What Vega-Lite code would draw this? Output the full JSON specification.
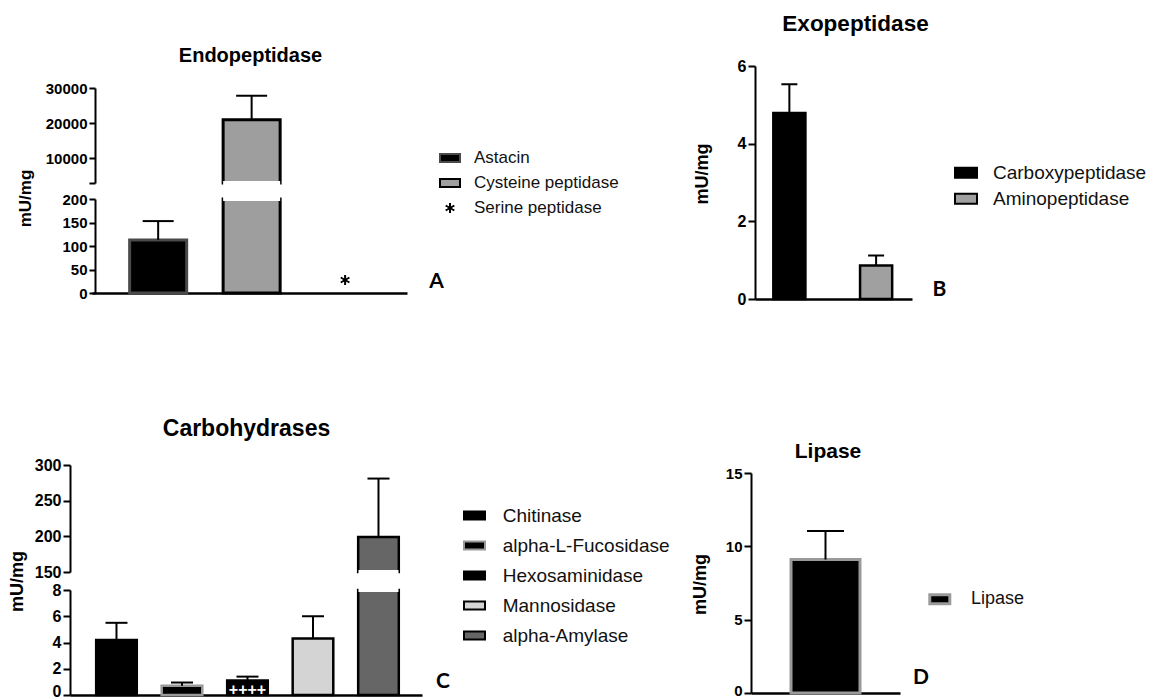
{
  "$schema": "https://vega.github.io/schema/vega-lite/v6.json",
  "width": 1159,
  "height": 699,
  "autosize": {"type": "none"},
  "padding": 0,
  "background": "white",
  "config": {
    "view": {"stroke": null},
    "axis": {"grid": false, "domainColor": "#000", "tickColor": "#000", "labelColor": "#000", "titleColor": "#000", "labelFont": "Liberation Sans", "titleFont": "Liberation Sans", "labelFontWeight": "bold", "titleFontWeight": "bold", "domainWidth": 2, "tickWidth": 2, "tickSize": 7, "labelPadding": 2, "labelOverlap": false, "labelFlush": false},
    "legend": {"padding": 0, "offset": 0, "labelFont": "Liberation Sans", "labelColor": "#111", "labelLimit": 0, "symbolStrokeWidth": 2}
  },
  "datasets": {
    "endo": [
      {"enzyme": "Astacin", "value": 113, "high": 153},
      {"enzyme": "Cysteine peptidase", "value": 21000, "high": 27800},
      {"enzyme": "Serine peptidase", "value": null, "high": null}
    ],
    "exo": [
      {"enzyme": "Carboxypeptidase", "value": 4.79, "high": 5.53},
      {"enzyme": "Aminopeptidase", "value": 0.86, "high": 1.12}
    ],
    "carbo": [
      {"enzyme": "Chitinase", "value": 4.2, "high": 5.5},
      {"enzyme": "alpha-L-Fucosidase", "value": 0.7, "high": 0.95},
      {"enzyme": "Hexosaminidase", "value": 1.1, "high": 1.4},
      {"enzyme": "Mannosidase", "value": 4.3, "high": 6.0},
      {"enzyme": "alpha-Amylase", "value": 199, "high": 281}
    ],
    "lipase": [
      {"enzyme": "Lipase", "value": 9.1, "high": 11.05}
    ]
  },
  "layer": [
    {
      "data": {"name": "endo"},
      "transform": [{"filter": "datum.value > 3000"}],
      "mark": {"type": "bar", "strokeWidth": 3},
      "encoding": {
        "x": {"field": "enzyme", "type": "nominal", "scale": {"type": "band", "domain": ["Astacin", "Cysteine peptidase", "Serine peptidase"], "range": [92, 407], "paddingInner": 0.39, "paddingOuter": 0.38, "align": 0.53},
          "axis": {"orient": "top", "domain": false, "ticks": false, "labels": false, "title": "Endopeptidase", "titleX": 250, "titleY": 61, "titleBaseline": "alphabetic", "titleAlign": "center", "titleFontSize": 20}},
        "y": {"field": "value", "type": "quantitative", "scale": {"domain": [3000, 30000], "range": [183, 88], "clamp": true, "nice": false, "zero": false},
          "axis": {"orient": "left", "offset": -95, "tickSize": 6, "values": [3000, 10000, 20000, 30000], "format": "d", "labelExpr": "datum.value < 5000 ? '' : datum.label", "labelFontSize": 15, "title": null}},
        "y2": {"datum": 0},
        "fill": {"field": "enzyme", "type": "nominal", "scale": {"domain": ["Astacin", "Cysteine peptidase", "Serine peptidase"], "range": ["#000000", "#9e9e9e", "#000000"]}, "legend": null},
        "stroke": {"field": "enzyme", "type": "nominal", "scale": {"domain": ["Astacin", "Cysteine peptidase", "Serine peptidase"], "range": ["#4a4a4a", "#000000", "#000000"]}, "legend": null}
      }
    },
    {
      "data": {"name": "endo"},
      "transform": [{"filter": "datum.value > 3000"}],
      "encoding": {
        "x": {"field": "enzyme", "type": "nominal", "scale": {"type": "band", "domain": ["Astacin", "Cysteine peptidase", "Serine peptidase"], "range": [92, 407], "paddingInner": 0.39, "paddingOuter": 0.38, "align": 0.53}, "axis": null}
      },
      "layer": [
        {"mark": {"type": "tick", "color": "white", "thickness": 4, "size": 57, "opacity": 1},
         "encoding": {"y": {"datum": 3000, "type": "quantitative", "scale": {"domain": [3000, 30000], "range": [183, 88], "clamp": true, "nice": false, "zero": false}, "axis": null}}},
        {"mark": {"type": "rule", "color": "#000", "strokeWidth": 2},
         "encoding": {"y": {"field": "value", "type": "quantitative", "scale": {"domain": [3000, 30000], "range": [183, 88], "clamp": true, "nice": false, "zero": false}, "axis": null}, "y2": {"field": "high"}}},
        {"mark": {"type": "tick", "color": "#000", "thickness": 2, "size": 31, "opacity": 1},
         "encoding": {"y": {"field": "high", "type": "quantitative", "scale": {"domain": [3000, 30000], "range": [183, 88], "clamp": true, "nice": false, "zero": false}, "axis": null}}}
      ]
    },
    {
      "data": {"name": "endo"},
      "mark": {"type": "bar", "strokeWidth": 3},
      "encoding": {
        "x": {"field": "enzyme", "type": "nominal", "scale": {"type": "band", "domain": ["Astacin", "Cysteine peptidase", "Serine peptidase"], "range": [92, 407], "paddingInner": 0.39, "paddingOuter": 0.38, "align": 0.53},
          "axis": {"orient": "bottom", "offset": -406, "domainWidth": 2.5, "ticks": false, "labels": false, "title": "A", "titleX": 436, "titleY": -6, "titleBaseline": "alphabetic", "titleAlign": "center", "titleFont": "Lato", "titleFontSize": 21}},
        "y": {"field": "value", "type": "quantitative", "scale": {"domain": [0, 200], "range": [293, 199], "clamp": true, "nice": false, "zero": false},
          "axis": {"orient": "left", "offset": -95, "tickSize": 6, "values": [0, 50, 100, 150, 200], "labelFontSize": 15, "title": "mU/mg", "titleX": -65, "titleY": 198, "titleAngle": 270, "titleBaseline": "alphabetic", "titleAlign": "center", "titleFontSize": 17}},
        "y2": {"datum": 0},
        "fill": {"field": "enzyme", "type": "nominal", "scale": {"domain": ["Astacin", "Cysteine peptidase", "Serine peptidase"], "range": ["#000000", "#9e9e9e", "#000000"]}, "legend": null},
        "stroke": {"field": "enzyme", "type": "nominal", "scale": {"domain": ["Astacin", "Cysteine peptidase", "Serine peptidase"], "range": ["#4a4a4a", "#000000", "#000000"]}, "legend": null}
      }
    },
    {
      "data": {"name": "endo"},
      "encoding": {
        "x": {"field": "enzyme", "type": "nominal", "scale": {"type": "band", "domain": ["Astacin", "Cysteine peptidase", "Serine peptidase"], "range": [92, 407], "paddingInner": 0.39, "paddingOuter": 0.38, "align": 0.53}, "axis": null}
      },
      "layer": [
        {"transform": [{"filter": "datum.value > 200"}],
         "mark": {"type": "tick", "color": "white", "thickness": 4, "size": 57, "opacity": 1},
         "encoding": {"y": {"datum": 200, "type": "quantitative", "scale": {"domain": [0, 200], "range": [293, 199], "clamp": true, "nice": false, "zero": false}, "axis": null}}},
        {"transform": [{"filter": "datum.high != null && datum.high <= 200"}],
         "mark": {"type": "rule", "color": "#000", "strokeWidth": 2},
         "encoding": {"y": {"field": "value", "type": "quantitative", "scale": {"domain": [0, 200], "range": [293, 199], "clamp": true, "nice": false, "zero": false}, "axis": null}, "y2": {"field": "high"}}},
        {"transform": [{"filter": "datum.high != null && datum.high <= 200"}],
         "mark": {"type": "tick", "color": "#000", "thickness": 2, "size": 31, "opacity": 1},
         "encoding": {"y": {"field": "high", "type": "quantitative", "scale": {"domain": [0, 200], "range": [293, 199], "clamp": true, "nice": false, "zero": false}, "axis": null}}}
      ]
    },
    {
      "data": {"name": "endo"},
      "transform": [{"filter": "datum.enzyme === 'Serine peptidase'"}],
      "mark": {"type": "point", "strokeWidth": 2, "size": 400, "opacity": 1, "filled": false, "yOffset": -13},
      "encoding": {
        "x": {"field": "enzyme", "type": "nominal", "scale": {"type": "band", "domain": ["Astacin", "Cysteine peptidase", "Serine peptidase"], "range": [92, 407], "paddingInner": 0.39, "paddingOuter": 0.38, "align": 0.53}, "axis": null},
        "y": {"datum": 0, "type": "quantitative", "scale": {"domain": [0, 200], "range": [293, 199], "clamp": true, "nice": false, "zero": false}, "axis": null},
        "fill": {"field": "enzyme", "type": "nominal", "scale": {"domain": ["Astacin", "Cysteine peptidase", "Serine peptidase"], "range": ["#000000", "#9e9e9e", "#000000"]},
          "legend": {"orient": "none", "legendX": 439, "legendY": 147, "title": null, "rowPadding": 6, "labelOffset": 13, "labelFontSize": 17, "symbolSize": 400}},
        "stroke": {"field": "enzyme", "type": "nominal", "scale": {"domain": ["Astacin", "Cysteine peptidase", "Serine peptidase"], "range": ["#4a4a4a", "#000000", "#000000"]},
          "legend": {"orient": "none", "legendX": 439, "legendY": 147, "title": null, "rowPadding": 6, "labelOffset": 13, "labelFontSize": 17, "symbolSize": 400}},
        "shape": {"field": "enzyme", "type": "nominal", "scale": {"domain": ["Astacin", "Cysteine peptidase", "Serine peptidase"], "range": ["M-1,-0.4H1V0.4H-1Z", "M-1,-0.4H1V0.4H-1Z", "M0,-0.5L0,0.5M-0.433,-0.25L0.433,0.25M-0.433,0.25L0.433,-0.25"]},
          "legend": {"orient": "none", "legendX": 439, "legendY": 147, "title": null, "rowPadding": 6, "labelOffset": 13, "labelFontSize": 17, "symbolSize": 400}}
      }
    },
    {
      "data": {"name": "exo"},
      "mark": {"type": "bar", "strokeWidth": 2.5},
      "encoding": {
        "x": {"field": "enzyme", "type": "nominal", "scale": {"type": "band", "domain": ["Carboxypeptidase", "Aminopeptidase"], "range": [755, 912], "paddingInner": 0.63, "paddingOuter": 0.22, "align": 0.48},
          "axis": {"orient": "bottom", "offset": -400, "domainWidth": 2.5, "ticks": false, "labels": false, "title": "B", "titleX": 939, "titleY": -4, "titleBaseline": "alphabetic", "titleAlign": "center", "titleFont": "Lato", "titleFontSize": 21}},
        "y": {"field": "value", "type": "quantitative", "scale": {"domain": [0, 6], "range": [299, 66], "nice": false, "zero": false},
          "axis": {"orient": "left", "offset": -755, "values": [0, 2, 4, 6], "labelFontSize": 16, "title": "mU/mg", "titleX": -48, "titleY": 173.5, "titleAngle": 270, "titleBaseline": "alphabetic", "titleAlign": "center", "titleFontSize": 18}},
        "y2": {"datum": 0},
        "fill": {"field": "enzyme", "type": "nominal", "scale": {"domain": ["Carboxypeptidase", "Aminopeptidase"], "range": ["#000000", "#a0a0a0"]},
          "legend": {"orient": "none", "legendX": 954, "legendY": 160.7, "title": null, "rowPadding": 4, "labelOffset": 15, "labelFontSize": 19, "symbolType": "M-1,-0.45H1V0.45H-1Z", "symbolSize": 484}},
        "stroke": {"field": "enzyme", "type": "nominal", "scale": {"domain": ["Carboxypeptidase", "Aminopeptidase"], "range": ["#000000", "#000000"]},
          "legend": {"orient": "none", "legendX": 954, "legendY": 160.7, "title": null, "rowPadding": 4, "labelOffset": 15, "labelFontSize": 19, "symbolType": "M-1,-0.45H1V0.45H-1Z", "symbolSize": 484}}
      }
    },
    {
      "data": {"name": "exo"},
      "encoding": {
        "x": {"field": "enzyme", "type": "nominal", "scale": {"type": "band", "domain": ["Carboxypeptidase", "Aminopeptidase"], "range": [755, 912], "paddingInner": 0.63, "paddingOuter": 0.22, "align": 0.48},
          "axis": {"orient": "top", "domain": false, "ticks": false, "labels": false, "title": "Exopeptidase", "titleX": 855, "titleY": 30, "titleBaseline": "alphabetic", "titleAlign": "center", "titleFontSize": 22.5}}
      },
      "layer": [
        {"mark": {"type": "rule", "color": "#000", "strokeWidth": 2},
         "encoding": {"y": {"field": "value", "type": "quantitative", "scale": {"domain": [0, 6], "range": [299, 66], "nice": false, "zero": false}, "axis": null}, "y2": {"field": "high"}}},
        {"mark": {"type": "tick", "color": "#000", "thickness": 2, "size": 16, "opacity": 1},
         "encoding": {"y": {"field": "high", "type": "quantitative", "scale": {"domain": [0, 6], "range": [299, 66], "nice": false, "zero": false}, "axis": null}}}
      ]
    },
    {
      "data": {"name": "carbo"},
      "transform": [{"filter": "datum.value > 150"}],
      "mark": {"type": "bar", "strokeWidth": 2.5},
      "encoding": {
        "x": {"field": "enzyme", "type": "nominal", "scale": {"type": "band", "domain": ["Chitinase", "alpha-L-Fucosidase", "Hexosaminidase", "Mannosidase", "alpha-Amylase"], "range": [70, 422], "paddingInner": 0.38, "paddingOuter": 0.377, "align": 0.53},
          "axis": {"orient": "top", "domain": false, "ticks": false, "labels": false, "title": "Carbohydrases", "titleX": 246, "titleY": 435, "titleBaseline": "alphabetic", "titleAlign": "center", "titleFontSize": 23}},
        "y": {"field": "value", "type": "quantitative", "scale": {"domain": [150, 300], "range": [572, 465], "clamp": true, "nice": false, "zero": false},
          "axis": {"orient": "left", "offset": -70, "values": [150, 200, 250, 300], "labelFontSize": 16, "title": null}},
        "y2": {"datum": 0},
        "fill": {"field": "enzyme", "type": "nominal", "scale": {"domain": ["Chitinase", "alpha-L-Fucosidase", "Hexosaminidase", "Mannosidase", "alpha-Amylase"], "range": ["#000000", "#000000", "#000000", "#d4d4d4", "#666666"]}, "legend": null},
        "stroke": {"field": "enzyme", "type": "nominal", "scale": {"domain": ["Chitinase", "alpha-L-Fucosidase", "Hexosaminidase", "Mannosidase", "alpha-Amylase"], "range": ["#000000", "#999999", "#000000", "#000000", "#000000"]}, "legend": null}
      }
    },
    {
      "data": {"name": "carbo"},
      "transform": [{"filter": "datum.value > 150"}],
      "encoding": {
        "x": {"field": "enzyme", "type": "nominal", "scale": {"type": "band", "domain": ["Chitinase", "alpha-L-Fucosidase", "Hexosaminidase", "Mannosidase", "alpha-Amylase"], "range": [70, 422], "paddingInner": 0.38, "paddingOuter": 0.377, "align": 0.53}, "axis": null}
      },
      "layer": [
        {"mark": {"type": "tick", "color": "white", "thickness": 4, "size": 40, "opacity": 1},
         "encoding": {"y": {"datum": 150, "type": "quantitative", "scale": {"domain": [150, 300], "range": [572, 465], "clamp": true, "nice": false, "zero": false}, "axis": null}}},
        {"mark": {"type": "rule", "color": "#000", "strokeWidth": 2},
         "encoding": {"y": {"field": "value", "type": "quantitative", "scale": {"domain": [150, 300], "range": [572, 465], "clamp": true, "nice": false, "zero": false}, "axis": null}, "y2": {"field": "high"}}},
        {"mark": {"type": "tick", "color": "#000", "thickness": 2, "size": 22, "opacity": 1},
         "encoding": {"y": {"field": "high", "type": "quantitative", "scale": {"domain": [150, 300], "range": [572, 465], "clamp": true, "nice": false, "zero": false}, "axis": null}}}
      ]
    },
    {
      "data": {"name": "carbo"},
      "mark": {"type": "bar", "strokeWidth": 2.5},
      "encoding": {
        "x": {"field": "enzyme", "type": "nominal", "scale": {"type": "band", "domain": ["Chitinase", "alpha-L-Fucosidase", "Hexosaminidase", "Mannosidase", "alpha-Amylase"], "range": [70, 422], "paddingInner": 0.38, "paddingOuter": 0.377, "align": 0.53},
          "axis": {"orient": "bottom", "offset": -4, "domainWidth": 2.5, "ticks": false, "labels": false, "title": "C", "titleX": 442.5, "titleY": -8, "titleBaseline": "alphabetic", "titleAlign": "center", "titleFont": "Lato", "titleFontSize": 21}},
        "y": {"field": "value", "type": "quantitative", "scale": {"domain": [0, 8], "range": [695, 590], "clamp": true, "nice": false, "zero": false},
          "axis": {"orient": "left", "offset": -70, "values": [0, 2, 4, 6, 8], "labelFontSize": 16, "labelOffset": {"condition": {"test": "datum.value === 0", "value": -4}, "value": 0}, "title": "mU/mg", "titleX": -48, "titleY": 581, "titleAngle": 270, "titleBaseline": "alphabetic", "titleAlign": "center", "titleFontSize": 18}},
        "y2": {"datum": 0},
        "fill": {"field": "enzyme", "type": "nominal", "scale": {"domain": ["Chitinase", "alpha-L-Fucosidase", "Hexosaminidase", "Mannosidase", "alpha-Amylase"], "range": ["#000000", "#000000", "#000000", "#d4d4d4", "#666666"]},
          "legend": {"orient": "none", "legendX": 463, "legendY": 504, "title": null, "rowPadding": 8, "labelOffset": 16.7, "labelFontSize": 19, "symbolType": "M-1,-0.38H1V0.38H-1Z", "symbolSize": 441}},
        "stroke": {"field": "enzyme", "type": "nominal", "scale": {"domain": ["Chitinase", "alpha-L-Fucosidase", "Hexosaminidase", "Mannosidase", "alpha-Amylase"], "range": ["#000000", "#999999", "#000000", "#000000", "#000000"]},
          "legend": {"orient": "none", "legendX": 463, "legendY": 504, "title": null, "rowPadding": 8, "labelOffset": 16.7, "labelFontSize": 19, "symbolType": "M-1,-0.38H1V0.38H-1Z", "symbolSize": 441}}
      }
    },
    {
      "data": {"name": "carbo"},
      "encoding": {
        "x": {"field": "enzyme", "type": "nominal", "scale": {"type": "band", "domain": ["Chitinase", "alpha-L-Fucosidase", "Hexosaminidase", "Mannosidase", "alpha-Amylase"], "range": [70, 422], "paddingInner": 0.38, "paddingOuter": 0.377, "align": 0.53}, "axis": null}
      },
      "layer": [
        {"transform": [{"filter": "datum.value > 8"}],
         "mark": {"type": "tick", "color": "white", "thickness": 4, "size": 40, "opacity": 1},
         "encoding": {"y": {"datum": 8, "type": "quantitative", "scale": {"domain": [0, 8], "range": [695, 590], "clamp": true, "nice": false, "zero": false}, "axis": null}}},
        {"transform": [{"filter": "datum.enzyme === 'Hexosaminidase'"}],
         "mark": {"type": "text", "text": "++++", "color": "white", "font": "Liberation Sans", "fontWeight": "bold", "fontSize": 16, "baseline": "alphabetic", "dy": 0},
         "encoding": {"y": {"datum": 0, "type": "quantitative", "scale": {"domain": [0, 8], "range": [695, 590], "clamp": true, "nice": false, "zero": false}, "axis": null}}},
        {"transform": [{"filter": "datum.high <= 8"}],
         "mark": {"type": "rule", "color": "#000", "strokeWidth": 2},
         "encoding": {"y": {"field": "value", "type": "quantitative", "scale": {"domain": [0, 8], "range": [695, 590], "clamp": true, "nice": false, "zero": false}, "axis": null}, "y2": {"field": "high"}}},
        {"transform": [{"filter": "datum.high <= 8"}],
         "mark": {"type": "tick", "color": "#000", "thickness": 2, "size": 22, "opacity": 1},
         "encoding": {"y": {"field": "high", "type": "quantitative", "scale": {"domain": [0, 8], "range": [695, 590], "clamp": true, "nice": false, "zero": false}, "axis": null}}}
      ]
    },
    {
      "data": {"name": "lipase"},
      "mark": {"type": "bar", "strokeWidth": 3},
      "encoding": {
        "x": {"field": "enzyme", "type": "nominal", "scale": {"type": "band", "domain": ["Lipase"], "range": [751, 900], "paddingInner": 0, "paddingOuter": 0.58, "align": 0.5},
          "axis": {"orient": "bottom", "offset": -6, "domainWidth": 2.5, "ticks": false, "labels": false, "title": "D", "titleX": 920.5, "titleY": -10, "titleBaseline": "alphabetic", "titleAlign": "center", "titleFont": "Lato", "titleFontSize": 21}},
        "y": {"field": "value", "type": "quantitative", "scale": {"domain": [0, 15], "range": [693, 473], "nice": false, "zero": false},
          "axis": {"orient": "left", "offset": -751, "values": [0, 5, 10, 15], "labelFontSize": 15, "labelOffset": {"condition": {"test": "datum.value === 0", "value": -3}, "value": 0}, "title": "mU/mg", "titleX": -46, "titleY": 584, "titleAngle": 270, "titleBaseline": "alphabetic", "titleAlign": "center", "titleFontSize": 18}},
        "y2": {"datum": 0},
        "fill": {"field": "enzyme", "type": "nominal", "scale": {"domain": ["Lipase"], "range": ["#000000"]},
          "legend": {"orient": "none", "legendX": 928.3, "legendY": 587.7, "title": null, "labelOffset": 19.7, "labelFontSize": 18, "symbolType": "M-1,-0.45H1V0.45H-1Z", "symbolSize": 400, "symbolStrokeWidth": 3}},
        "stroke": {"field": "enzyme", "type": "nominal", "scale": {"domain": ["Lipase"], "range": ["#9a9a9a"]},
          "legend": {"orient": "none", "legendX": 928.3, "legendY": 587.7, "title": null, "labelOffset": 19.7, "labelFontSize": 18, "symbolType": "M-1,-0.45H1V0.45H-1Z", "symbolSize": 400, "symbolStrokeWidth": 3}}
      }
    },
    {
      "data": {"name": "lipase"},
      "encoding": {
        "x": {"field": "enzyme", "type": "nominal", "scale": {"type": "band", "domain": ["Lipase"], "range": [751, 900], "paddingInner": 0, "paddingOuter": 0.58, "align": 0.5},
          "axis": {"orient": "top", "domain": false, "ticks": false, "labels": false, "title": "Lipase", "titleX": 827.5, "titleY": 457, "titleBaseline": "alphabetic", "titleAlign": "center", "titleFontSize": 21}}
      },
      "layer": [
        {"mark": {"type": "rule", "color": "#000", "strokeWidth": 2},
         "encoding": {"y": {"field": "value", "type": "quantitative", "scale": {"domain": [0, 15], "range": [693, 473], "nice": false, "zero": false}, "axis": null}, "y2": {"field": "high"}}},
        {"mark": {"type": "tick", "color": "#000", "thickness": 2, "size": 37, "opacity": 1},
         "encoding": {"y": {"field": "high", "type": "quantitative", "scale": {"domain": [0, 15], "range": [693, 473], "nice": false, "zero": false}, "axis": null}}}
      ]
    }
  ],
  "resolve": {
    "scale": {"x": "independent", "y": "independent", "fill": "independent", "stroke": "independent", "shape": "independent"},
    "axis": {"x": "independent", "y": "independent"},
    "legend": {"fill": "independent", "stroke": "independent", "shape": "independent"}
  }
}
